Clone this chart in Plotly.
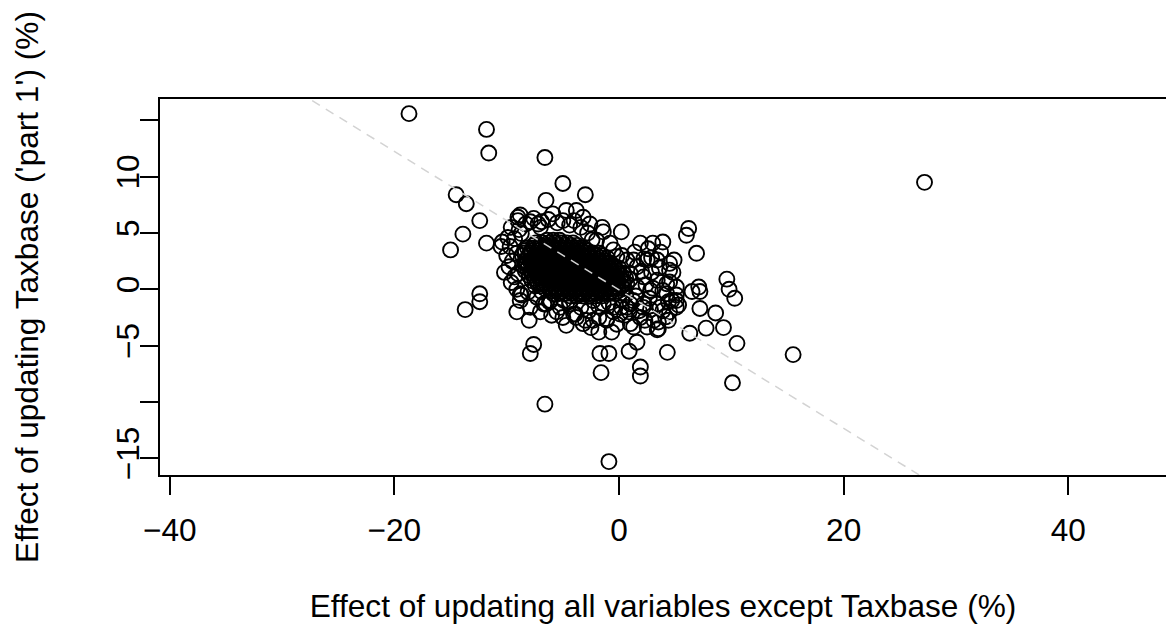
import plotly.graph_objects as go

# ---- data (percent) ----
outer_points = [
    (-18.7, 15.6), (-11.8, 14.2), (-11.6, 12.1), (-6.6, 11.7), (27.2, 9.5),
    (-5.0, 9.4), (-3.0, 8.4), (-14.5, 8.4), (-13.6, 7.6), (-6.5, 7.9),
    (-12.4, 6.1), (-13.9, 4.9), (-15.0, 3.5), (-11.8, 4.1), (-10.5, 3.8),
    (-12.4, -0.4), (-12.4, -1.1), (-13.7, -1.8), (-9.1, -2.0), (-8.0, -2.75),
    (-7.6, -4.9), (-7.9, -5.7), (-6.6, -10.2), (-0.9, -15.3), (-1.6, -7.4),
    (-1.7, -5.7), (-0.9, -5.7), (0.9, -5.5), (1.6, -4.7), (1.9, -6.9),
    (1.9, -7.7), (4.3, -5.6), (6.3, -3.9), (7.75, -3.45), (9.3, -3.4),
    (10.5, -4.8), (15.5, -5.8), (10.1, -8.3), (8.6, -2.1), (7.2, -1.7),
    (9.6, 0.9), (9.8, 0.0), (10.3, -0.8), (7.1, 0.2), (7.2, -0.2),
    (6.5, -0.2), (6.9, 3.2), (6.2, 5.4), (6.0, 4.8), (0.2, 5.1),
    (1.9, 4.1), (3.0, 4.1), (3.9, 4.2),
]

fringe_points = [
    (-3.2, -3.05), (-1.8, -3.8), (-0.65, -3.8), (3.4, -3.6), (2.3, -2.75),
    (3.5, -2.9), (4.5, -2.0), (5.1, -1.6), (4.4, -1.1), (5.1, -1.0),
    (3.9, -0.1), (4.9, 2.6), (4.5, 1.7), (3.4, 2.6), (2.9, 1.5),
    (1.6, 2.0), (1.0, 1.4), (2.5, 2.6), (4.5, 2.3), (4.8, 1.5),
    (4.5, 0.65), (5.1, -0.5), (5.3, -1.4), (4.4, -2.75),
    (-9.1, 0.0), (-8.7, -0.5), (-8.8, -1.0), (-9.3, 1.1), (-9.0, 6.1),
    (-8.8, 6.6), (-7.2, 5.8), (-6.9, 6.0), (-9.6, 5.5), (-9.9, 4.6),
    (-9.7, 3.8), (-4.7, 7.0), (-3.8, 7.0), (-3.2, 6.4), (-5.0, 6.1),
    (-4.4, 5.7), (-1.5, 5.5), (-1.4, 5.1), (-2.0, 4.35), (-0.5, 3.5),
    (-0.2, 2.9), (-5.9, 6.7), (-9.0, 6.4), (-7.9, 6.0), (-8.7, 4.95),
    (-9.3, 4.5), (-9.1, 3.2), (-9.0, 1.4), (-7.0, 5.5),
    (-6.1, -1.0), (-6.7, -1.3), (-8.8, -0.4),
    (-4.4, -1.1), (-3.9, -2.2), (-2.3, -2.75), (-1.1, -2.75), (0.1, -2.2),
    (0.7, -1.6), (1.0, -3.05), (1.3, -3.35), (1.9, -2.5), (2.5, -3.35),
    (3.1, -2.75), (3.5, -3.5), (3.65, -1.6), (4.25, -0.4), (4.7, -1.0),
    (4.15, -2.45), (2.15, -1.6), (1.25, -1.0), (-0.5, -1.6), (-1.4, -1.27),
    (-2.3, -1.0), (-3.5, -0.4),
    (1.3, 2.6), (2.2, 2.7), (2.9, 2.8), (2.2, 1.1), (3.4, 0.8),
    (4.25, 0.5), (0.7, 0.5), (1.6, 0.2), (2.8, -0.1), (5.1, 0.2),
    (0.5, -2.3), (1.0, -1.3), (2.2, -1.3), (0.2, -1.6), (3.4, -1.3),
    (-1.8, -2.5), (-1.1, -2.6), (-0.5, -2.0), (-4.4, -1.3), (-4.05, -2.2),
    (-3.8, -2.5), (-3.0, -2.75), (-6.5, -1.3), (-6.2, -1.1), (-5.85, -0.4),
    (-7.3, -0.7), (-8.1, -0.25), (-7.9, -1.6), (-5.25, -1.6), (-2.7, -1.9),
    (-5.55, -2.0), (-5.0, -2.5),
    (-2.6, 5.8), (-0.8, 4.1), (0.25, 3.0), (0.7, 2.6),
    (-9.5, 2.5), (-9.8, 2.0), (-10.2, 1.5), (-9.6, 0.6), (-10.0, 3.0),
    (-8.9, 5.3), (-8.3, 5.8), (-7.6, 6.3), (-6.3, 6.2), (-5.5, 5.9),
    (-4.0, 6.1), (-3.4, 5.5), (-2.8, 5.0), (-2.4, 4.4), (-10.4, 4.2),
    (0.6, -0.5), (1.5, -0.6), (2.4, 0.4), (3.0, 0.1), (1.0, 0.9),
    (2.0, 1.6), (3.6, 1.9), (0.9, -2.0), (1.8, -1.9), (2.8, -1.8),
    (2.7, -0.8), (3.9, -1.9), (0.3, -0.9), (1.4, 3.3), (3.7, 3.3),
    (2.6, 3.6),
    (-6.0, -2.3), (-4.7, -3.2), (-2.5, -3.4), (-0.2, -3.1), (-7.0, -2.0),
    (-3.4, -1.6), (-1.8, -1.5), (-0.9, -1.2), (-4.9, -1.0), (-6.9, -0.2),
]

# dense core of the cloud, read row by row (y value, then x values in that row)
core_row_y = [4.35, 4.12, 3.9, 3.67, 3.45, 3.22, 3.0, 2.77, 2.55, 2.32, 2.1, 1.87,
              1.65, 1.42, 1.2, 0.97, 0.75, 0.52, 0.3, 0.07, -0.15, -0.37, -0.6]
core_row_x = [
    [-6.4, -5.85, -5.3],
    [-7.4, -6.85, -6.3, -5.75, -5.2, -4.65, -4.1],
    [-7.6, -7.05, -6.5, -5.95, -5.4, -4.85, -4.3, -3.75],
    [-8.15, -7.6, -7.05, -6.5, -5.95, -5.4, -4.85, -4.3, -3.75, -3.2],
    [-8.35, -7.8, -7.25, -6.7, -6.15, -5.6, -5.05, -4.5, -3.95, -3.4, -2.85],
    [-8.4, -7.85, -7.3, -6.75, -6.2, -5.65, -5.1, -4.55, -4.0, -3.45, -2.9, -2.35, -1.85],
    [-8.6, -8.05, -7.5, -6.95, -6.4, -5.85, -5.3, -4.75, -4.2, -3.65, -3.1, -2.55, -2.0, -1.5],
    [-8.15, -7.6, -7.05, -6.5, -5.95, -5.4, -4.85, -4.3, -3.75, -3.2, -2.65, -2.1, -1.55, -1.05],
    [-8.35, -7.8, -7.25, -6.7, -6.15, -5.6, -5.05, -4.5, -3.95, -3.4, -2.85, -2.3, -1.75, -1.2],
    [-8.4, -7.85, -7.3, -6.75, -6.2, -5.65, -5.1, -4.55, -4.0, -3.45, -2.9, -2.35, -1.8, -1.25, -0.75],
    [-8.6, -8.05, -7.5, -6.95, -6.4, -5.85, -5.3, -4.75, -4.2, -3.65, -3.1, -2.55, -2.0, -1.45, -0.9, -0.5],
    [-8.15, -7.6, -7.05, -6.5, -5.95, -5.4, -4.85, -4.3, -3.75, -3.2, -2.65, -2.1, -1.55, -1.0, -0.45, 0.0],
    [-8.35, -7.8, -7.25, -6.7, -6.15, -5.6, -5.05, -4.5, -3.95, -3.4, -2.85, -2.3, -1.75, -1.2, -0.65, -0.15],
    [-7.8, -7.3, -6.75, -6.2, -5.65, -5.1, -4.55, -4.0, -3.45, -2.9, -2.35, -1.8, -1.25, -0.7, -0.15, 0.35],
    [-8.0, -7.5, -6.95, -6.4, -5.85, -5.3, -4.75, -4.2, -3.65, -3.1, -2.55, -2.0, -1.45, -0.9, -0.35, 0.2],
    [-7.55, -7.05, -6.5, -5.95, -5.4, -4.85, -4.3, -3.75, -3.2, -2.65, -2.1, -1.55, -1.0, -0.45, 0.1, 0.6],
    [-7.75, -7.25, -6.7, -6.15, -5.6, -5.05, -4.5, -3.95, -3.4, -2.85, -2.3, -1.75, -1.2, -0.65, -0.1, 0.4],
    [-7.25, -6.75, -6.2, -5.65, -5.1, -4.55, -4.0, -3.45, -2.9, -2.35, -1.8, -1.25, -0.7, -0.15, 0.4],
    [-7.45, -6.95, -6.4, -5.85, -5.3, -4.75, -4.2, -3.65, -3.1, -2.55, -2.0, -1.45, -0.9, -0.35, 0.2],
    [-6.6, -6.1, -5.55, -5.0, -4.45, -3.9, -3.35, -2.8, -2.25, -1.7, -1.15, -0.6, -0.05, 0.45],
    [-6.1, -5.6, -5.05, -4.5, -3.95, -3.4, -2.85, -2.3, -1.75, -1.2, -0.65, -0.1],
    [-5.3, -4.75, -4.2, -3.65, -3.1, -2.55, -2.0, -1.45, -0.9, -0.4],
    [-4.3, -3.75, -3.2, -2.65, -2.1, -1.55],
]

# reference line (intercept, slope)
line_intercept = -0.05
line_slope = -0.615

x_ticks = [-40, -20, 0, 20, 40]
x_tick_text = ["\u221240", "\u221220", "0", "20", "40"]
y_ticks = [-15, -10, -5, 0, 5, 10, 15]
y_tick_text = ["\u221215", "", "\u22125", "0", "5", "10", ""]

x_title = "Effect of updating all variables except Taxbase (%)"
y_title = "Effect of updating Taxbase ('part 1') (%)"

# ---- assemble ----
xs, ys = [], []
for px, py in outer_points + fringe_points:
    xs.append(px)
    ys.append(py)
for ry, rxs in zip(core_row_y, core_row_x):
    for rx in rxs:
        xs.append(rx)
        ys.append(ry)

x_range = [-40.87, 48.7]
y_range = [-16.49, 16.9]

fig = go.Figure()
fig.add_trace(go.Scatter(
    x=xs, y=ys, mode="markers",
    marker=dict(symbol="circle-open", size=15, color="black",
                line=dict(width=1.9, color="black")),
    hoverinfo="skip",
))
lx = [x_range[0] - 1, x_range[1] + 1]
ly = [line_intercept + line_slope * v for v in lx]
fig.add_trace(go.Scatter(
    x=lx, y=ly, mode="lines",
    line=dict(color="#D3D3D3", width=1.5, dash="9px,7px"),
    hoverinfo="skip",
))

font_family = "Liberation Sans, Arial, Helvetica, sans-serif"
fs = 31.6
fig.update_layout(
    template="none",
    width=1166, height=633,
    margin=dict(l=160, r=0, t=99, b=158, pad=0),
    plot_bgcolor="white", paper_bgcolor="white",
    showlegend=False,
    font=dict(family=font_family, size=fs, color="black"),
    xaxis=dict(
        range=x_range, tickvals=x_ticks, ticktext=x_tick_text,
        ticks="outside", ticklen=18, tickwidth=1.5, tickcolor="black",
        showline=True, linewidth=1.5, linecolor="black", mirror=True,
        showgrid=False, zeroline=False, automargin=False,
        tickfont=dict(size=fs), ticklabelstandoff=8,
        title=dict(text=x_title, font=dict(size=fs), standoff=48),
    ),
    yaxis=dict(
        range=y_range, tickvals=y_ticks, ticktext=y_tick_text, tickangle=-90,
        ticks="outside", ticklen=18, tickwidth=1.5, tickcolor="black",
        showline=True, linewidth=1.5, linecolor="black", mirror=False,
        showgrid=False, zeroline=False, automargin=False,
        tickfont=dict(size=fs), ticklabelstandoff=-11,
        title=dict(text=y_title, font=dict(size=fs), standoff=62),
    ),
)

fig.write_html("out.html")
